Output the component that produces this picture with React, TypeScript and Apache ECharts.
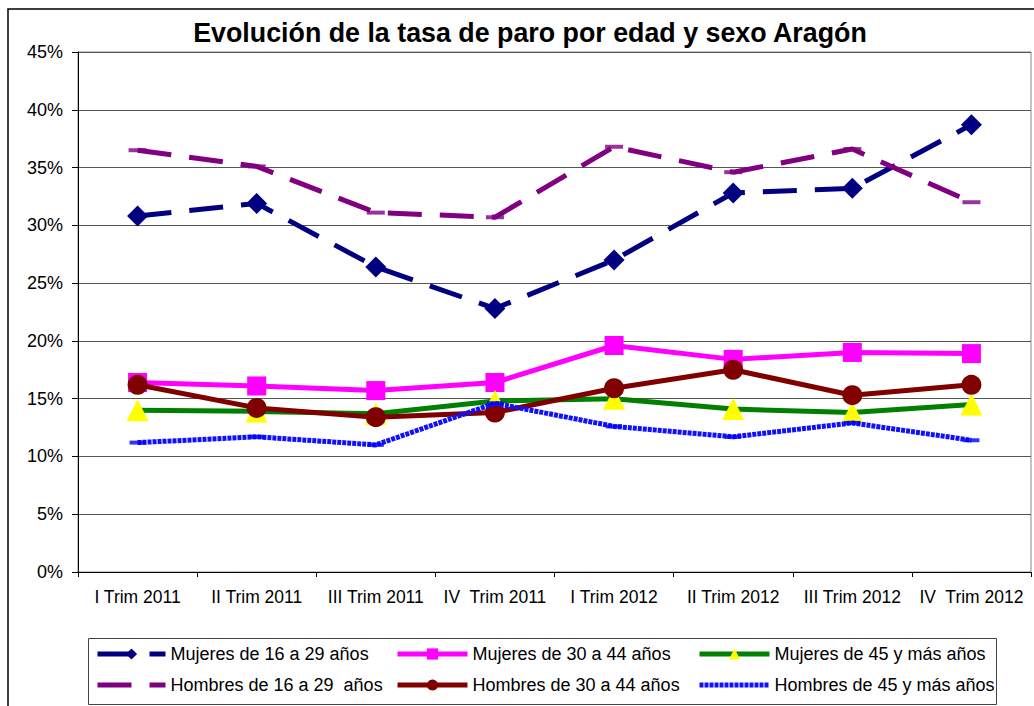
import React, { useEffect, useRef } from 'react';
import * as echarts from 'echarts';

const FONT = '"Liberation Sans", Arial, sans-serif';

const titleText = 'Evolución de la tasa de paro por edad y sexo Aragón';

const categories = [
  'I Trim 2011',
  'II Trim 2011',
  'III Trim 2011',
  'IV  Trim 2011',
  'I Trim 2012',
  'II Trim 2012',
  'III Trim 2012',
  'IV  Trim 2012',
];

const seriesNames = [
  'Mujeres de 16 a 29 años',
  'Mujeres de 30 a 44 años',
  'Mujeres de 45 y más años',
  'Hombres de 16 a 29  años',
  'Hombres de 30 a 44 años',
  'Hombres de 45 y más años',
];

const mujeres1629 = [30.8, 31.9, 26.4, 22.8, 27.0, 32.8, 33.2, 38.7];
const mujeres3044 = [16.4, 16.1, 15.7, 16.4, 19.6, 18.4, 19.0, 18.9];
const mujeres45 = [14.0, 13.9, 13.7, 14.8, 15.0, 14.1, 13.8, 14.5];
const hombres1629 = [36.5, 35.1, 31.1, 30.7, 36.8, 34.6, 36.6, 32.0];
const hombres3044 = [16.2, 14.2, 13.4, 13.8, 15.9, 17.5, 15.3, 16.2];
const hombres45 = [11.2, 11.7, 11.0, 14.6, 12.6, 11.7, 12.9, 11.4];

const yTicks = { min: 0, max: 45, interval: 5 };

const legendText = { color: '#000', fontSize: 18, fontFamily: FONT };

function buildOption(): any {
  const legendCommon = {
    orient: 'vertical',
    top: 645,
    itemGap: 13,
    itemWidth: 70,
    itemHeight: 14,
    padding: 0,
    selectedMode: false,
    textStyle: legendText,
    lineStyle: { width: 5 },
  };
  const noSym = (name: string) => ({ name, itemStyle: { opacity: 0 } });
  return {
    animation: false,
    backgroundColor: '#ffffff',
    textStyle: { fontFamily: FONT },
    grid: {
      left: 78,
      right: 3,
      top: 52,
      bottom: 134,
      show: true,
      borderColor: '#888888',
      borderWidth: 1,
      backgroundColor: 'transparent',
    },
    xAxis: {
      type: 'category',
      data: categories,
      boundaryGap: true,
      axisLine: { lineStyle: { color: '#000', width: 1 } },
      axisTick: { show: true, length: 5, lineStyle: { color: '#000' } },
      axisLabel: { color: '#000', fontSize: 17.5, margin: 16, fontFamily: FONT, interval: 0 },
      splitLine: { show: false },
    },
    yAxis: {
      type: 'value',
      min: yTicks.min,
      max: yTicks.max,
      interval: yTicks.interval,
      axisLine: { show: true, lineStyle: { color: '#000', width: 1 } },
      axisTick: { show: true, length: 6, lineStyle: { color: '#000' } },
      axisLabel: { formatter: '{value}%', color: '#000', fontSize: 18, margin: 15, fontFamily: FONT },
      splitLine: { lineStyle: { color: '#555555', width: 1 } },
    },
    legend: [
      { ...legendCommon, left: 95, itemWidth: 68, data: [seriesNames[0], noSym(seriesNames[3])] },
      { ...legendCommon, left: 395, data: [seriesNames[1], seriesNames[4]] },
      { ...legendCommon, left: 697, data: [seriesNames[2], noSym(seriesNames[5])] },
    ],
    graphic: [
      {
        type: 'rect',
        shape: { x: 8, y: 9, width: 1100, height: 800 },
        style: { fill: 'none', stroke: '#000', lineWidth: 1.5 },
        silent: true,
      },
      {
        type: 'rect',
        shape: { x: 88.5, y: 638.5, width: 908, height: 66 },
        style: { fill: 'none', stroke: '#444', lineWidth: 1 },
        silent: true,
      },
      {
        type: 'text',
        x: 530,
        y: 33,
        style: {
          text: titleText,
          fill: '#000',
          font: 'bold 26.8px "Liberation Sans", Arial, sans-serif',
          align: 'center',
          verticalAlign: 'middle',
        },
        silent: true,
      },
    ],
    series: [
      {
        name: seriesNames[0],
        type: 'line',
        data: mujeres1629,
        symbol: 'diamond',
        symbolSize: 21,
        itemStyle: { color: '#000080' },
        lineStyle: { color: '#000080', width: 5, type: [34, 18], cap: 'butt' },
        z: 2,
      },
      {
        name: seriesNames[1],
        type: 'line',
        data: mujeres3044,
        symbol: 'rect',
        symbolSize: 19,
        itemStyle: { color: '#ff00ff' },
        lineStyle: { color: '#ff00ff', width: 5 },
        z: 3,
      },
      {
        name: seriesNames[2],
        type: 'line',
        data: mujeres45,
        symbol: 'triangle',
        symbolSize: 22,
        itemStyle: { color: '#ffff00' },
        lineStyle: { color: '#008000', width: 5 },
        z: 4,
      },
      {
        name: seriesNames[3],
        type: 'line',
        data: hombres1629,
        symbol: 'none',
        itemStyle: { color: '#800080' },
        lineStyle: { color: '#800080', width: 5, type: [34, 18], cap: 'butt' },
        z: 5,
      },
      {
        name: seriesNames[4],
        type: 'line',
        data: hombres3044,
        symbol: 'circle',
        symbolSize: 20,
        itemStyle: { color: '#800000' },
        lineStyle: { color: '#800000', width: 5 },
        z: 6,
      },
      {
        name: seriesNames[5],
        type: 'line',
        data: hombres45,
        symbol: 'none',
        itemStyle: { color: '#0000ff' },
        lineStyle: { color: '#1010ff', width: 5, type: [4, 1], cap: 'butt' },
        z: 7,
      },
      {
        name: 'h1629-marker',
        type: 'scatter',
        data: hombres1629,
        symbol: 'rect',
        symbolSize: [18, 4],
        itemStyle: { color: '#800080' },
        silent: true,
        z: 5,
      },
      {
        name: 'h45-marker',
        type: 'scatter',
        data: hombres45,
        symbol: 'rect',
        symbolSize: [16, 4],
        itemStyle: { color: '#0000ff' },
        silent: true,
        z: 7,
      },
    ],
  };
}

export default function App() {
  const ref = useRef<HTMLDivElement>(null);
  useEffect(() => {
    if (!ref.current) return;
    const chart = echarts.init(ref.current, null, { renderer: 'svg' });
    chart.setOption(buildOption());
    return () => {
      chart.dispose();
    };
  }, []);
  return (
    <div
      ref={ref}
      style={{ position: 'absolute', left: 0, top: 0, width: 1034, height: 706, background: '#fff' }}
    />
  );
}
